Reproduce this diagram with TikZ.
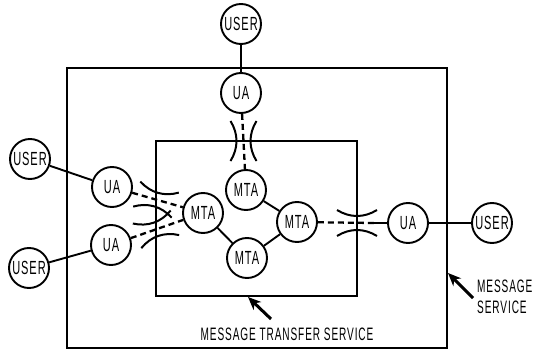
\documentclass[tikz,border=0pt]{standalone}
\usepackage{fontspec}
\newfontfamily\condf[FakeStretch=0.58,LetterSpace=5]{Liberation Sans}
\newfontfamily\condl[FakeStretch=0.56,LetterSpace=5]{Liberation Sans}
\usetikzlibrary{arrows.meta}

\tikzset{
  ent/.style={circle, draw, line width=1.9pt, minimum size=40pt, inner sep=0pt,
              font=\condf\fontsize{19}{21}\selectfont, fill=white},
  link/.style={line width=1.9pt},
  dlink/.style={line width=2.3pt, dash pattern=on 6pt off 4pt},
  frame/.style={line width=1.9pt},
  pointer/.style={line width=3pt, -{Stealth[length=13pt,width=11pt,inset=4pt]}},
  lbl/.style={font=\condl\fontsize{18}{21}\selectfont, inner sep=0pt},
  pinch/.pic={
    \draw[line width=2pt] (-20,-13) .. controls (-7,-5) and (7,-5) .. (20,-13);
    \draw[line width=2pt] (-20,13) .. controls (-7,5) and (7,5) .. (20,13);
  }
}

\begin{document}
\begin{tikzpicture}[x=1pt, y=-1pt]
\useasboundingbox (0,0) rectangle (539,351);

% service boundaries
\draw[frame] (67,68) rectangle (447,348);
\draw[frame] (156,141) rectangle (357,296);

% users and agents
\node[ent] (userT)  at (241,24)  {USER};
\node[ent] (uaT)    at (241,93)  {UA};
\node[ent] (userL1) at (30,159)  {USER};
\node[ent] (uaL1)   at (112,187) {UA};
\node[ent] (userL2) at (29,268)  {USER};
\node[ent] (uaL2)   at (111,245) {UA};
\node[ent] (uaR)    at (408,223) {UA};
\node[ent] (userR)  at (492,223) {USER};

% transfer agents
\node[ent] (mtaL) at (203,213) {MTA};
\node[ent] (mtaT) at (246,190) {MTA};
\node[ent] (mtaR) at (297,222) {MTA};
\node[ent] (mtaB) at (247,258) {MTA};

% user to agent links
\draw[link] (userT) -- (uaT);
\draw[link] (userL1) -- (uaL1);
\draw[link] (userL2) -- (uaL2);
\draw[link] (uaR) -- (userR);

% links between transfer agents
\draw[link] (mtaL) -- (mtaB);
\draw[link] (mtaB) -- (mtaR);
\draw[link] (mtaT) -- (mtaR);

% access across the transfer service boundary
\draw[dlink] (uaT) -- (mtaT);
\draw[dlink] (uaL1) -- (mtaL);
\draw[dlink] (uaL2) -- (mtaL);
\coordinate (rj) at (374,223);
\draw[dlink] (mtaR) -- (rj);
\draw[link] (rj) -- (uaR);

\pic[rotate=90] at (243.5,141) {pinch};
\pic[rotate=-16] at (156,199.6) {pinch};
\pic[rotate=19] at (156,229.3) {pinch};
\pic at (357,223) {pinch};

% pointers and labels
\coordinate (p1) at (271,319);
\coordinate (p1t) at (248,297);
\draw[pointer] (p1) -- (p1t);
\coordinate (p2) at (473,298);
\coordinate (p2t) at (448,273);
\draw[pointer] (p2) -- (p2t);

\node[lbl] (mts) at (287,334) {MESSAGE\ TRANSFER\ SERVICE};
\node[lbl, anchor=west, align=left] (ms) at (477,297) {MESSAGE\\SERVICE};
\end{tikzpicture}
\end{document}
